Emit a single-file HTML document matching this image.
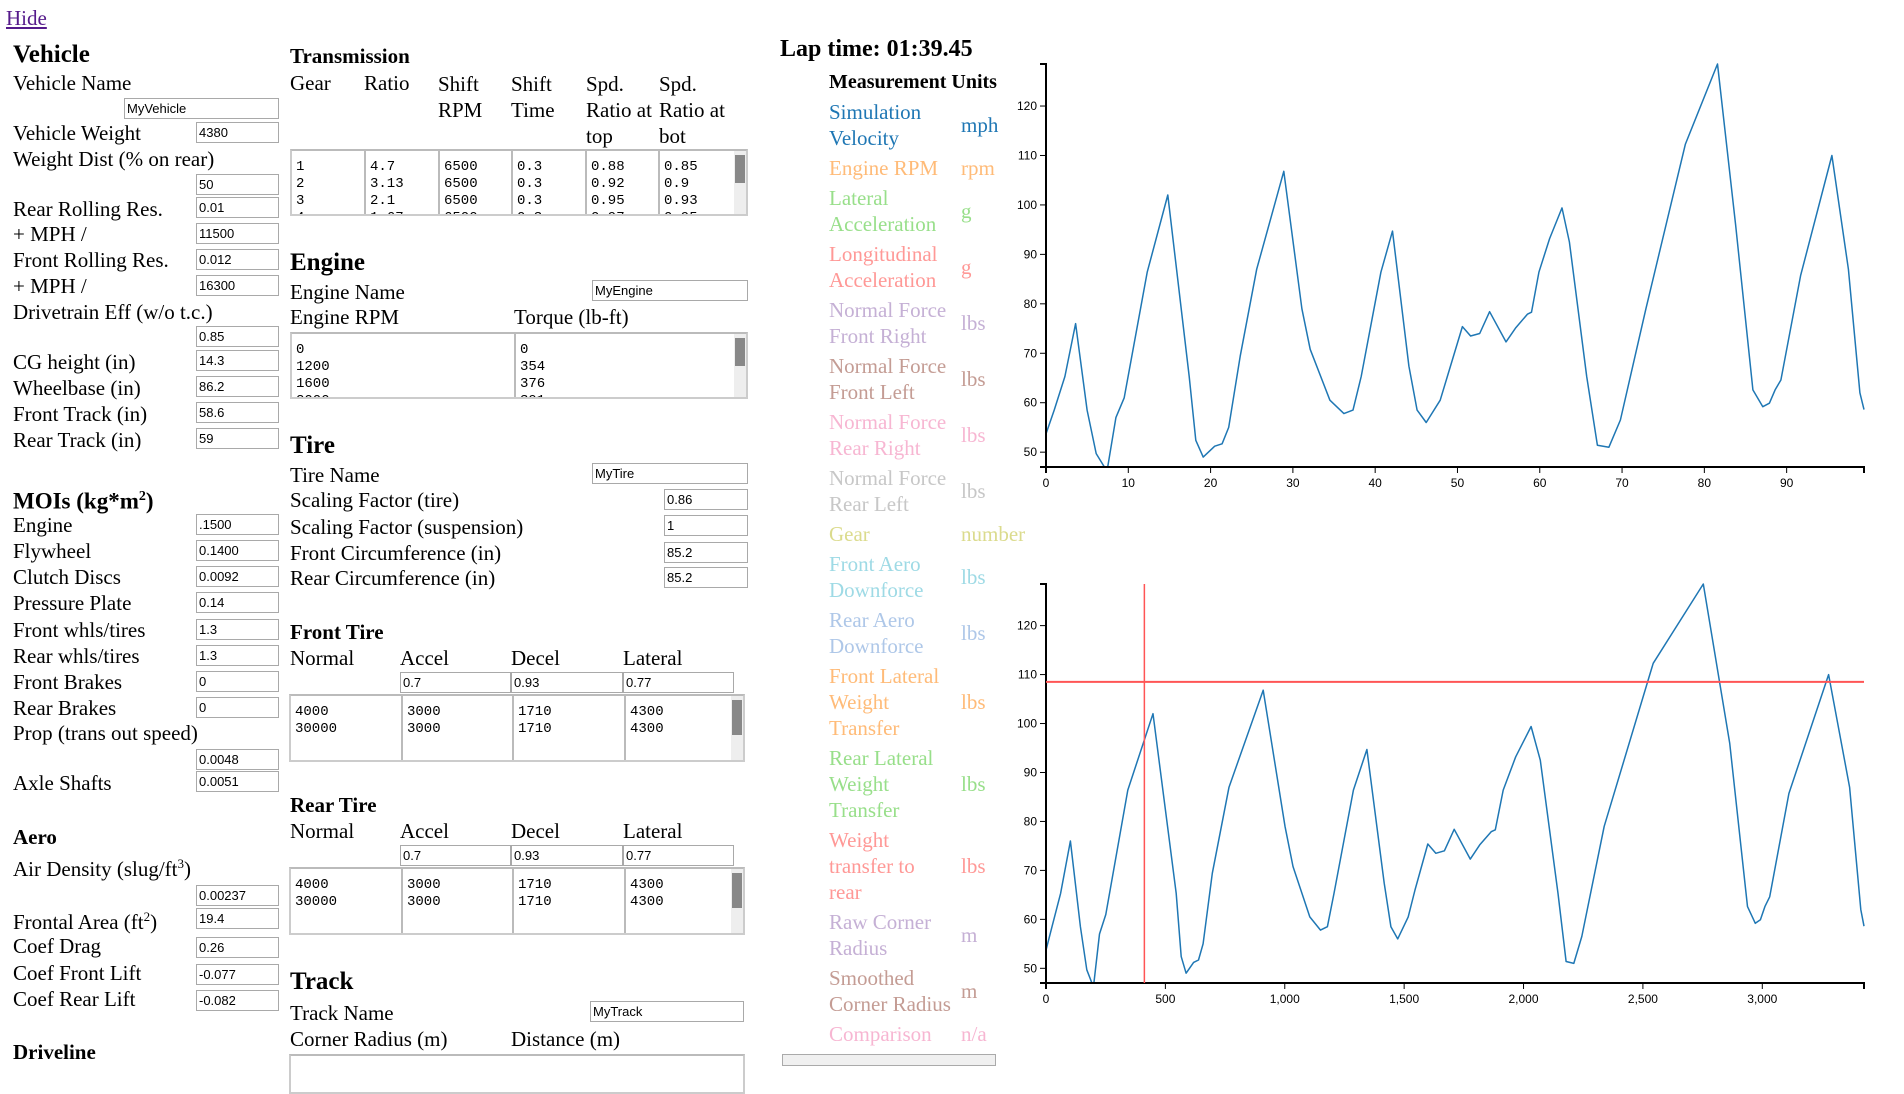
<!DOCTYPE html>
<html><head><meta charset="utf-8">
<style>
body{margin:0;width:1904px;height:1056px;overflow:hidden;background:#fff;font-family:"Liberation Serif",serif;font-size:21px;color:#000;position:relative}
.a{position:absolute;white-space:nowrap;line-height:24px}
.h1{font-weight:bold;font-size:25px}
.h2{font-weight:bold;font-size:21px}
input.i{position:absolute;box-sizing:border-box;height:21px;border:1px solid #a9a9a9;font-family:"Liberation Sans",sans-serif;font-size:13px;padding:0 2px;margin:0;background:#fff;color:#000}
.ta{position:absolute;box-sizing:border-box;border:2px solid #ccc;border-top-color:#bbb;background:#fff;overflow:hidden;font-family:"Liberation Mono",monospace;font-size:14px;line-height:17px}
.ta .c{position:absolute;top:0;bottom:0;border-left:2px solid #bbb;padding:8px 4px 0 4px;white-space:pre}
.ta .c:first-child{border-left:none}
.sb{position:absolute;right:0;top:0;bottom:0;width:12px;background:#eee}
.sb div{position:absolute;left:1px;right:1px;top:4px;height:44%;background:#888}
.lg{position:absolute;line-height:26px;white-space:nowrap;font-size:21px}
</style></head><body>
<a class="a" style="left:6px;top:6px;color:#551a8b;text-decoration:underline">Hide</a>

<div class="a h1" style="left:13px;top:43px">Vehicle</div>
<div class="a" style="left:13px;top:71px">Vehicle Name</div>
<input class="i" style="left:124px;top:98px;width:155px" value="MyVehicle">
<div class="a" style="left:13px;top:121px">Vehicle Weight</div>
<input class="i" style="left:196px;top:122px;width:83px" value="4380">
<div class="a" style="left:13px;top:147px">Weight Dist (% on rear)</div>
<input class="i" style="left:196px;top:174px;width:83px" value="50">
<div class="a" style="left:13px;top:197px">Rear Rolling Res.</div>
<input class="i" style="left:196px;top:197px;width:83px" value="0.01">
<div class="a" style="left:13px;top:222px">+ MPH /</div>
<input class="i" style="left:196px;top:223px;width:83px" value="11500">
<div class="a" style="left:13px;top:248px">Front Rolling Res.</div>
<input class="i" style="left:196px;top:249px;width:83px" value="0.012">
<div class="a" style="left:13px;top:274px">+ MPH /</div>
<input class="i" style="left:196px;top:275px;width:83px" value="16300">
<div class="a" style="left:13px;top:300px">Drivetrain Eff (w/o t.c.)</div>
<input class="i" style="left:196px;top:326px;width:83px" value="0.85">
<div class="a" style="left:13px;top:350px">CG height (in)</div>
<input class="i" style="left:196px;top:350px;width:83px" value="14.3">
<div class="a" style="left:13px;top:376px">Wheelbase (in)</div>
<input class="i" style="left:196px;top:376px;width:83px" value="86.2">
<div class="a" style="left:13px;top:402px">Front Track (in)</div>
<input class="i" style="left:196px;top:402px;width:83px" value="58.6">
<div class="a" style="left:13px;top:428px">Rear Track (in)</div>
<input class="i" style="left:196px;top:428px;width:83px" value="59">

<div class="a h2" style="left:13px;top:485px;font-size:23px">MOIs (kg*m<sup style="font-size:14px">2</sup>)</div>
<div class="a" style="left:13px;top:513px">Engine</div>
<input class="i" style="left:196px;top:514px;width:83px" value=".1500">
<div class="a" style="left:13px;top:539px">Flywheel</div>
<input class="i" style="left:196px;top:540px;width:83px" value="0.1400">
<div class="a" style="left:13px;top:565px">Clutch Discs</div>
<input class="i" style="left:196px;top:566px;width:83px" value="0.0092">
<div class="a" style="left:13px;top:591px">Pressure Plate</div>
<input class="i" style="left:196px;top:592px;width:83px" value="0.14">
<div class="a" style="left:13px;top:618px">Front whls/tires</div>
<input class="i" style="left:196px;top:619px;width:83px" value="1.3">
<div class="a" style="left:13px;top:644px">Rear whls/tires</div>
<input class="i" style="left:196px;top:645px;width:83px" value="1.3">
<div class="a" style="left:13px;top:670px">Front Brakes</div>
<input class="i" style="left:196px;top:671px;width:83px" value="0">
<div class="a" style="left:13px;top:696px">Rear Brakes</div>
<input class="i" style="left:196px;top:697px;width:83px" value="0">
<div class="a" style="left:13px;top:721px">Prop (trans out speed)</div>
<input class="i" style="left:196px;top:749px;width:83px" value="0.0048">
<div class="a" style="left:13px;top:771px">Axle Shafts</div>
<input class="i" style="left:196px;top:771px;width:83px" value="0.0051">

<div class="a h2" style="left:13px;top:825px">Aero</div>
<div class="a" style="left:13px;top:857px">Air Density (slug/ft<sup style="font-size:13px;line-height:0">3</sup>)</div>
<input class="i" style="left:196px;top:885px;width:83px" value="0.00237">
<div class="a" style="left:13px;top:910px">Frontal Area (ft<sup style="font-size:13px;line-height:0">2</sup>)</div>
<input class="i" style="left:196px;top:908px;width:83px" value="19.4">
<div class="a" style="left:13px;top:934px">Coef Drag</div>
<input class="i" style="left:196px;top:937px;width:83px" value="0.26">
<div class="a" style="left:13px;top:961px">Coef Front Lift</div>
<input class="i" style="left:196px;top:964px;width:83px" value="-0.077">
<div class="a" style="left:13px;top:987px">Coef Rear Lift</div>
<input class="i" style="left:196px;top:990px;width:83px" value="-0.082">
<div class="a h2" style="left:13px;top:1040px">Driveline</div>

<div class="a h2" style="left:290px;top:44px">Transmission</div>
<div class="a" style="left:290px;top:71px">Gear</div>
<div class="a" style="left:364px;top:71px">Ratio</div>
<div class="a" style="left:438px;top:71px;line-height:26px">Shift<br>RPM</div>
<div class="a" style="left:511px;top:71px;line-height:26px">Shift<br>Time</div>
<div class="a" style="left:586px;top:71px;line-height:26px">Spd.<br>Ratio at<br>top</div>
<div class="a" style="left:659px;top:71px;line-height:26px">Spd.<br>Ratio at<br>bot</div>
<div class="ta" style="left:290px;top:149px;width:458px;height:67px">
<div class="c" style="left:0;width:62px">1
2
3
4</div><div class="c" style="left:72px;width:62px">4.7
3.13
2.1
1.67</div><div class="c" style="left:146px;width:62px">6500
6500
6500
6500</div><div class="c" style="left:219px;width:62px">0.3
0.3
0.3
0.3</div><div class="c" style="left:293px;width:62px">0.88
0.92
0.95
0.97</div><div class="c" style="left:366px;width:62px">0.85
0.9
0.93
0.95</div><div class="sb"><div></div></div></div>

<div class="a h1" style="left:290px;top:251px">Engine</div>
<div class="a" style="left:290px;top:280px">Engine Name</div>
<input class="i" style="left:592px;top:280px;width:156px" value="MyEngine">
<div class="a" style="left:290px;top:305px">Engine RPM</div>
<div class="a" style="left:514px;top:305px">Torque (lb-ft)</div>
<div class="ta" style="left:290px;top:332px;width:458px;height:67px">
<div class="c" style="left:0;width:210px">0
1200
1600
2000</div><div class="c" style="left:222px;width:210px">0
354
376
391</div><div class="sb"><div></div></div></div>

<div class="a h1" style="left:290px;top:434px">Tire</div>
<div class="a" style="left:290px;top:463px">Tire Name</div>
<input class="i" style="left:592px;top:463px;width:156px" value="MyTire">
<div class="a" style="left:290px;top:488px">Scaling Factor (tire)</div>
<input class="i" style="left:664px;top:489px;width:84px" value="0.86">
<div class="a" style="left:290px;top:515px">Scaling Factor (suspension)</div>
<input class="i" style="left:664px;top:515px;width:84px" value="1">
<div class="a" style="left:290px;top:541px">Front Circumference (in)</div>
<input class="i" style="left:664px;top:542px;width:84px" value="85.2">
<div class="a" style="left:290px;top:566px">Rear Circumference (in)</div>
<input class="i" style="left:664px;top:567px;width:84px" value="85.2">

<div class="a h2" style="left:290px;top:620px">Front Tire</div>
<div class="a" style="left:290px;top:646px">Normal</div>
<div class="a" style="left:400px;top:646px">Accel</div>
<div class="a" style="left:511px;top:646px">Decel</div>
<div class="a" style="left:623px;top:646px">Lateral</div>
<input class="i" style="left:400px;top:672px;width:111px" value="0.7">
<input class="i" style="left:511px;top:672px;width:112px" value="0.93">
<input class="i" style="left:623px;top:672px;width:111px" value="0.77">
<div class="ta" style="left:289px;top:694px;width:456px;height:68px">
<div class="c" style="left:0;width:100px">4000
30000</div><div class="c" style="left:110px;width:100px">3000
3000</div><div class="c" style="left:221px;width:100px">1710
1710</div><div class="c" style="left:333px;width:100px">4300
4300</div><div class="sb"><div style="height:55%"></div></div></div>

<div class="a h2" style="left:290px;top:793px">Rear Tire</div>
<div class="a" style="left:290px;top:819px">Normal</div>
<div class="a" style="left:400px;top:819px">Accel</div>
<div class="a" style="left:511px;top:819px">Decel</div>
<div class="a" style="left:623px;top:819px">Lateral</div>
<input class="i" style="left:400px;top:845px;width:111px" value="0.7">
<input class="i" style="left:511px;top:845px;width:112px" value="0.93">
<input class="i" style="left:623px;top:845px;width:111px" value="0.77">
<div class="ta" style="left:289px;top:867px;width:456px;height:68px">
<div class="c" style="left:0;width:100px">4000
30000</div><div class="c" style="left:110px;width:100px">3000
3000</div><div class="c" style="left:221px;width:100px">1710
1710</div><div class="c" style="left:333px;width:100px">4300
4300</div><div class="sb"><div style="height:55%"></div></div></div>

<div class="a h1" style="left:290px;top:970px">Track</div>
<div class="a" style="left:290px;top:1001px">Track Name</div>
<input class="i" style="left:590px;top:1001px;width:154px" value="MyTrack">
<div class="a" style="left:290px;top:1027px">Corner Radius (m)</div>
<div class="a" style="left:511px;top:1027px">Distance (m)</div>
<div class="ta" style="left:289px;top:1054px;width:456px;height:40px"></div>

<div class="a h1" style="left:780px;top:37px;font-size:24px">Lap time: 01:39.45</div>
<div class="a" style="left:829px;top:70px;font-weight:bold;font-size:20px">Measurement Units</div>
<div id="legend"></div>

<svg id="charts" width="1904" height="1056" style="position:absolute;left:0;top:0;pointer-events:none" xmlns="http://www.w3.org/2000/svg"></svg>
<div style="position:absolute;left:782px;top:1054px;width:212px;height:10px;border:1px solid #aaa;background:#f0f0f0"></div>

<script>
const legendNames=[["Simulation","Velocity"],["Engine RPM"],["Lateral","Acceleration"],["Longitudinal","Acceleration"],["Normal Force","Front Right"],["Normal Force","Front Left"],["Normal Force","Rear Right"],["Normal Force","Rear Left"],["Gear"],["Front Aero","Downforce"],["Rear Aero","Downforce"],["Front Lateral","Weight","Transfer"],["Rear Lateral","Weight","Transfer"],["Weight","transfer to","rear"],["Raw Corner","Radius"],["Smoothed","Corner Radius"],["Comparison"]];
const legendUnits=["mph","rpm","g","g","lbs","lbs","lbs","lbs","number","lbs","lbs","lbs","lbs","lbs","m","m","n/a"];
const legendColors=["#1f77b4","#ffbb78","#98df8a","#ff9896","#c5b0d5","#c49c94","#f7b6d2","#c7c7c7","#dbdb8d","#9edae5","#aec7e8","#ffbb78","#98df8a","#ff9896","#c5b0d5","#c49c94","#f7b6d2"];
const lg=document.getElementById('legend');
let ly=99;
legendNames.forEach((n,i)=>{
  const d=document.createElement('div');
  d.className='lg';
  
  
  d.style.left='829px';d.style.top=ly+'px';d.style.color=legendColors[i];
  d.innerHTML=n.join('<br>');
  lg.appendChild(d);
  const u=document.createElement('div');
  u.className='lg';
  
  
  u.style.left='961px';u.style.top=(ly+(n.length-1)*13)+'px';u.style.color=legendColors[i];
  u.textContent=legendUnits[i];
  lg.appendChild(u);
  ly+=n.length*26+4;
});

const times=[0,1,2.3,3.6,5,6.1,7.1,7.5,8.5,9.5,12.3,14.8,17.4,18.2,19.1,20.5,21.4,22.2,23.6,25.6,28.9,31.1,32.1,34.5,36.2,37.3,38.3,40.7,42.1,44.1,45.1,46.2,47.9,48.9,50.6,51.6,52.7,53.9,55.9,57.1,58.5,59,59.9,61.2,62.7,63.6,65.7,67,68.4,69.8,72.9,77.7,81.6,83.8,85.9,87.1,87.9,88.6,89.3,91.7,95.5,97.5,98.9,99.4];
const speeds=[53.7,58.5,65.3,76,58.5,49.7,47,47,57,61,86.4,102,65.3,52.4,49,51.2,51.7,55,69.4,87,106.8,79,70.8,60.5,57.8,58.5,65.3,86.4,94.7,67.4,58.5,56,60.5,66,75.4,73.5,74,78.4,72.3,75.2,77.9,78.3,86.4,93.2,99.4,92.5,65.3,51.4,51,56.5,79,112.3,128.5,96,62.6,59.2,59.9,62.6,64.6,85.7,110,87,62,58.6];
const yTicks=[50,60,70,80,90,100,110,120];
const tTicks=[0,10,20,30,40,50,60,70,80,90];
const dTicks=[0,500,1000,1500,2000,2500,3000];
const cursorDistance=412;
const cursorSpeed=108.5;

const dists=[0];
for(let i=1;i<times.length;i++){dists.push(dists[i-1]+(speeds[i]+speeds[i-1])/2*0.44704*(times[i]-times[i-1]));}

const svg=document.getElementById('charts');
const NS='http://www.w3.org/2000/svg';
function el(t,a){const e=document.createElementNS(NS,t);for(const k in a)e.setAttribute(k,a[k]);svg.appendChild(e);return e;}
const yMin=Math.min(...speeds),yMax=Math.max(...speeds);

function drawChart(xs,xTicks,top,bot,fmt,name){
  const L=1046,R=1864;
  const xMax=xs[xs.length-1];
  const sx=v=>L+(v/xMax)*(R-L);
  const sy=v=>bot-(v-yMin)/(yMax-yMin)*(bot-top);
  const p=el('path',{d:xs.map((x,i)=>(i?'L':'M')+sx(x).toFixed(1)+','+sy(speeds[i]).toFixed(1)).join(''),fill:'none',stroke:'#1f77b4','stroke-width':1.5,'stroke-linejoin':'round'});
  
  
  const ya=el('path',{d:`M${L-6},${top}H${L}V${bot}H${L-6}`,fill:'none',stroke:'#000','stroke-width':2});
  
  
  yTicks.forEach(v=>{
    el('line',{x1:L-6,x2:L,y1:sy(v),y2:sy(v),stroke:'#000'});
    const t=el('text',{x:L-9,y:sy(v)+4,'text-anchor':'end','font-family':'Liberation Sans, sans-serif','font-size':12});
    
    
    t.textContent=v;
  });
  const xa=el('path',{d:`M${L},${bot+6}V${bot}H${R}V${bot+6}`,fill:'none',stroke:'#000','stroke-width':2});
  
  
  xTicks.forEach(v=>{
    el('line',{x1:sx(v),x2:sx(v),y1:bot,y2:bot+6,stroke:'#000'});
    const t=el('text',{x:sx(v),y:bot+20,'text-anchor':'middle','font-family':'Liberation Sans, sans-serif','font-size':12});
    
    
    t.textContent=fmt(v);
  });
  return {sx,sy,L,R};
}
drawChart(times,tTicks,64,467,v=>v,'time-chart');
const b=drawChart(dists,dTicks,584,983,v=>v.toLocaleString('en-US'),'distance-chart');
const vl=el('line',{x1:b.sx(cursorDistance),x2:b.sx(cursorDistance),y1:584,y2:983,stroke:'#ff5555','stroke-width':1.5});


const hl=el('line',{x1:b.L,x2:b.R,y1:b.sy(cursorSpeed),y2:b.sy(cursorSpeed),stroke:'#ff5555','stroke-width':2});


</script>
</body></html>
